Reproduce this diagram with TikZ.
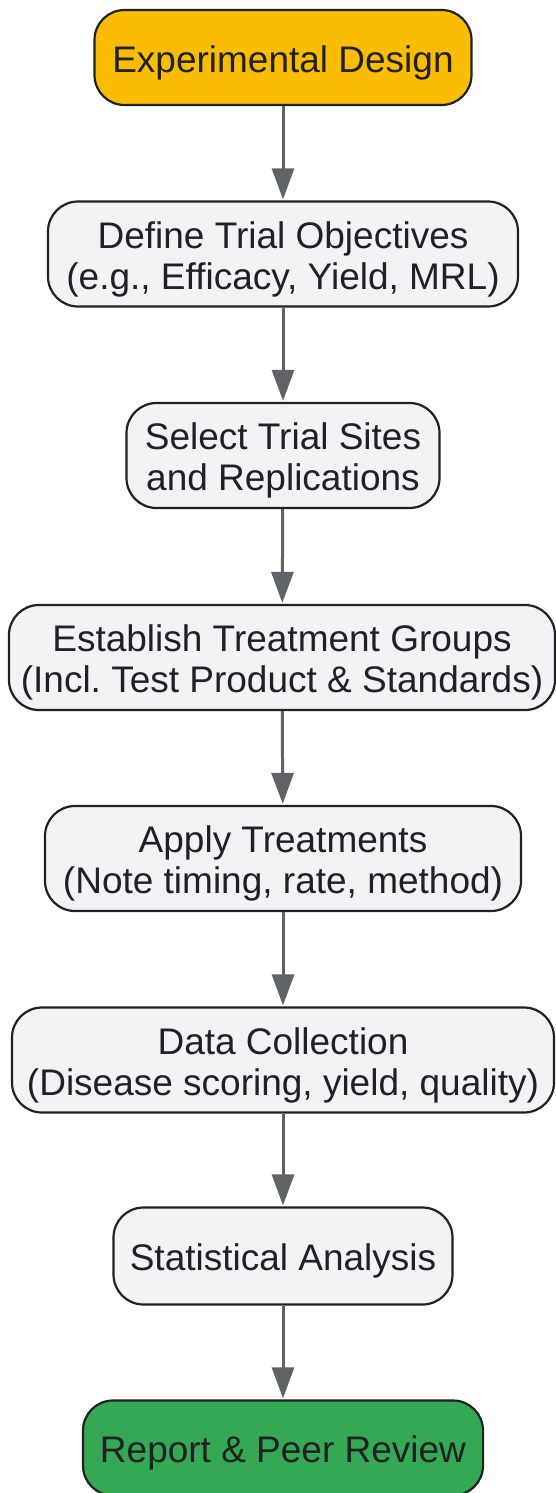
\documentclass[tikz,border=0pt]{standalone}
\usepackage{fontspec}
\setmainfont{Liberation Sans}
\usetikzlibrary{arrows.meta}
\frenchspacing
\definecolor{startfill}{HTML}{FBBC04}
\definecolor{stepfill}{HTML}{F1F3F4}
\definecolor{endfill}{HTML}{34A853}
\definecolor{edgecol}{HTML}{202124}
\definecolor{arrowcol}{HTML}{5F6368}
\begin{document}
\begin{tikzpicture}[x=1pt,y=-1pt,
  box/.style={draw=edgecol, line width=2.2pt, rounded corners=30pt, fill=stepfill,
    inner sep=0pt},
  startbox/.style={box, fill=startfill},
  endbox/.style={box, fill=endfill},
  txt/.style={label={[align=center, text=edgecol, inner sep=0pt, yshift=-5pt,
    font=\fontsize{37}{41}\selectfont\frenchspacing]center:{#1}}},
  conn/.style={draw=arrowcol, line width=3pt,
    -{Triangle[length=31pt,width=22pt]}, shorten >=1pt}
]
\useasboundingbox (0,0) rectangle (556,1493);
\node[startbox, minimum width=377pt, minimum height=95pt, txt={Experimental Design}] (n1) at (283,57.5) {};
\node[box, minimum width=470pt, minimum height=105pt, txt={Define Trial Objectives\\(e.g., Efficacy, Yield, MRL)}] (n2) at (283,254) {};
\node[box, minimum width=313pt, minimum height=105pt, txt={Select Trial Sites\\and Replications}] (n3) at (283,455.5) {};
\node[box, minimum width=546pt, minimum height=105pt, txt={Establish Treatment Groups\\(Incl. Test Product \& Standards)}] (n4) at (282,657.5) {};
\node[box, minimum width=476pt, minimum height=105pt, txt={Apply Treatments\\(Note timing, rate, method)}] (n5) at (283,858.5) {};
\node[box, minimum width=542pt, minimum height=105pt, txt={Data Collection\\(Disease scoring, yield, quality)}] (n6) at (283,1060) {};
\node[box, minimum width=339pt, minimum height=97pt, txt={Statistical Analysis}] (n7) at (283,1256) {};
\node[endbox, minimum width=400pt, minimum height=95pt, txt={Report \& Peer Review}] (n8) at (283,1448) {};
\foreach \a/\b in {n1/n2,n2/n3,n3/n4,n4/n5,n5/n6,n6/n7,n7/n8}
  \draw[conn] (\a) -- (\b);
\end{tikzpicture}
\end{document}
